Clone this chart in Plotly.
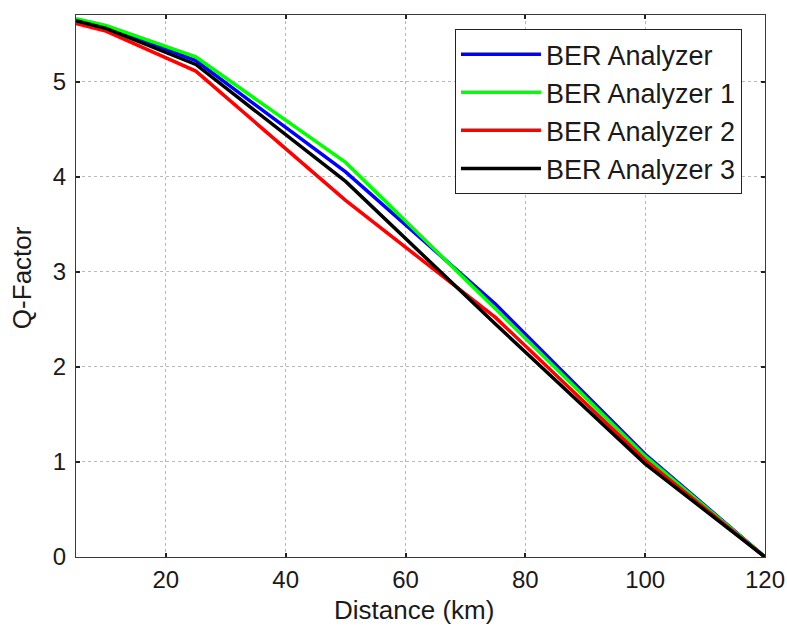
import plotly.graph_objects as go

distance_km = [5, 10, 25, 50, 75, 100, 120]
q_ber = [5.65, 5.58, 5.22, 4.05, 2.66, 1.08, 0.0]
q_ber1 = [5.66, 5.59, 5.26, 4.15, 2.61, 1.06, 0.0]
q_ber2 = [5.61, 5.53, 5.11, 3.75, 2.52, 1.02, 0.0]
q_ber3 = [5.64, 5.56, 5.18, 3.95, 2.45, 0.98, 0.0]

series_names = ["BER Analyzer", "BER Analyzer 1", "BER Analyzer 2", "BER Analyzer 3"]
series_values = [q_ber, q_ber1, q_ber2, q_ber3]
series_colors = ["#0000ff", "#00ff00", "#ff0000", "#000000"]

x_tick_vals = [20, 40, 60, 80, 100, 120]
y_tick_vals = [0, 1, 2, 3, 4, 5]

FONT = "Liberation Sans, Arial, sans-serif"
TXT = "#1a1a1a"

fig = go.Figure()
for name, vals, col in zip(series_names, series_values, series_colors):
    fig.add_trace(go.Scatter(
        x=distance_km, y=vals, mode="lines", name=name,
        legendgroup=name,
        line=dict(color=col, width=3.5),
    ))

axis_common = dict(
    showline=True, linecolor="#3a3a3a", linewidth=1, mirror="ticks",
    ticks="inside", ticklen=4, tickcolor="#222", tickwidth=2,
    showgrid=True, gridcolor="#b8b8b8", griddash="dot", gridwidth=1,
    zeroline=False, automargin=False,
    tickfont=dict(family=FONT, size=24, color=TXT),
)

fig.update_xaxes(
    range=[5, 120], tickvals=x_tick_vals,
    ticklabelstandoff=1,
    **axis_common,
)
fig.update_yaxes(
    range=[0, 5.7], tickvals=y_tick_vals,
    ticklabelstandoff=4,
    **axis_common,
)

fig.add_annotation(
    text="Distance (km)", xref="paper", yref="paper",
    x=0.49, y=-0.097, xanchor="center", yanchor="middle", showarrow=False,
    font=dict(family=FONT, size=26, color=TXT),
)
fig.add_annotation(
    text="Q-Factor", xref="paper", yref="paper", textangle=-90,
    x=-0.078, y=0.515, xanchor="center", yanchor="middle", showarrow=False,
    font=dict(family=FONT, size=26, color=TXT),
)

fig.update_layout(
    width=787, height=627,
    margin=dict(l=76, r=22, t=15, b=70),
    paper_bgcolor="white", plot_bgcolor="white",
    showlegend=True,
    legend=dict(
        x=0.55, y=0.974, xanchor="left", yanchor="top",
        bgcolor="white", bordercolor="#222", borderwidth=1,
        font=dict(family=FONT, size=27, color=TXT),
        tracegroupgap=0, itemwidth=80,
    ),
)

fig.write_html(
    "out.html",
    config={"displayModeBar": False},
    post_script="document.body.style.margin='0';document.body.style.overflow='hidden';",
)
